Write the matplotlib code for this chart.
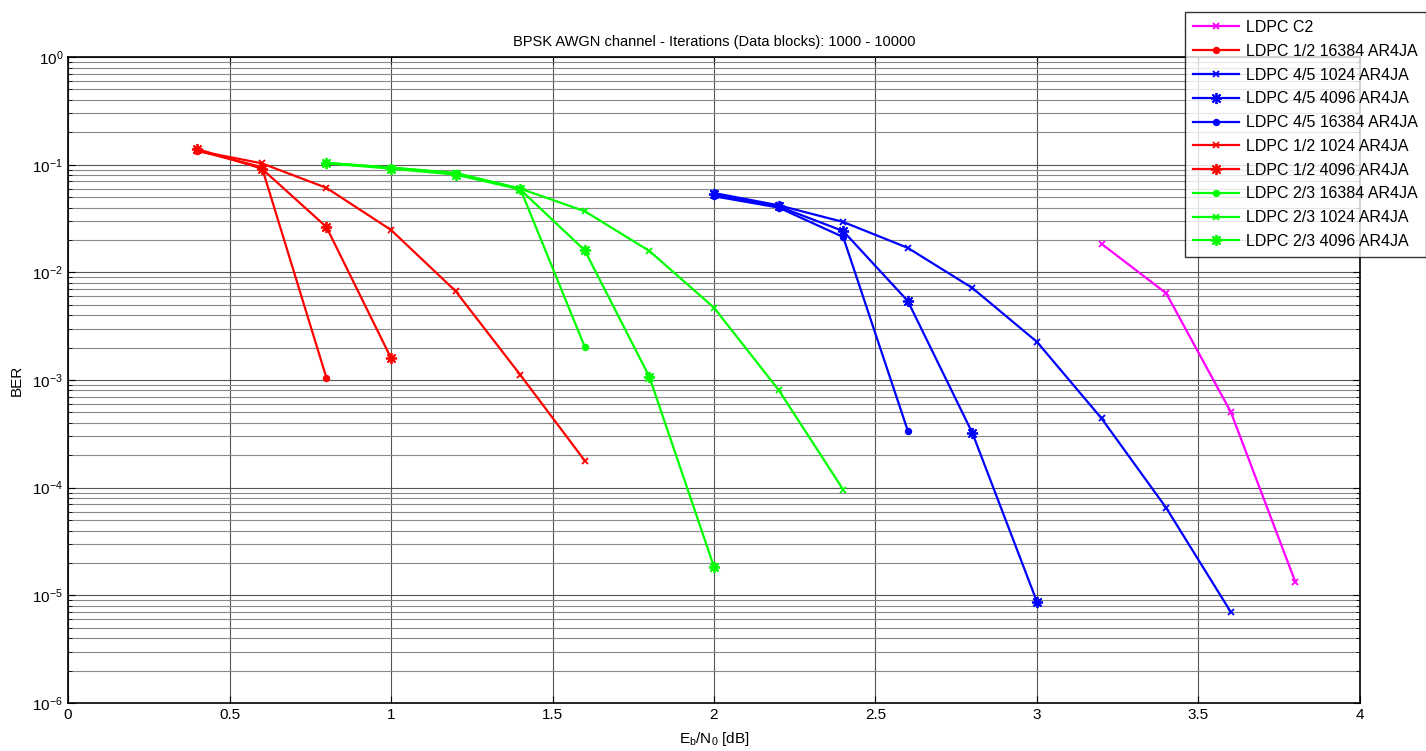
import matplotlib
matplotlib.use("Agg")
import matplotlib.pyplot as plt

plt.rcParams['font.family'] = ['Liberation Sans', 'DejaVu Sans']
plt.rcParams['axes.unicode_minus'] = False

# Eb/N0 points and BER for each code
x_c2 = [3.2, 3.4, 3.6, 3.8]
ber_c2 = [0.0184, 0.0064, 5.06e-4, 1.33e-5]

x_r12_16384 = [0.4, 0.6, 0.8]
ber_r12_16384 = [0.135, 0.095, 1.05e-3]
x_r45_1024 = [2.0, 2.2, 2.4, 2.6, 2.8, 3.0, 3.2, 3.4, 3.6]
ber_r45_1024 = [0.0546, 0.042, 0.0294, 0.0169, 0.00716, 0.00226, 4.4e-4, 6.5e-5, 7.0e-6]
x_r45_4096 = [2.0, 2.2, 2.4, 2.6, 2.8, 3.0]
ber_r45_4096 = [0.053, 0.041, 0.0242, 0.00542, 3.22e-4, 8.7e-6]
x_r45_16384 = [2.0, 2.2, 2.4, 2.6]
ber_r45_16384 = [0.051, 0.040, 0.0213, 3.38e-4]
x_r12_1024 = [0.4, 0.6, 0.8, 1.0, 1.2, 1.4, 1.6]
ber_r12_1024 = [0.135, 0.103, 0.061, 0.0248, 0.0067, 1.12e-3, 1.78e-4]
x_r12_4096 = [0.4, 0.6, 0.8, 1.0]
ber_r12_4096 = [0.14, 0.092, 0.0264, 1.6e-3]
x_r23_16384 = [0.8, 1.0, 1.2, 1.4, 1.6]
ber_r23_16384 = [0.104, 0.094, 0.083, 0.060, 2.03e-3]
x_r23_1024 = [0.8, 1.0, 1.2, 1.4, 1.6, 1.8, 2.0, 2.2, 2.4]
ber_r23_1024 = [0.104, 0.094, 0.084, 0.060, 0.037, 0.0158, 0.0047, 8.1e-4, 9.6e-5]
x_r23_4096 = [0.8, 1.0, 1.2, 1.4, 1.6, 1.8, 2.0]
ber_r23_4096 = [0.103, 0.092, 0.081, 0.059, 0.016, 1.07e-3, 1.84e-5]

star = (8, 2, 0)  # matlab-like asterisk

series = [
    (x_c2, ber_c2, '#ff00ff', 'x', 'LDPC C2'),
    (x_r12_16384, ber_r12_16384, '#ff0000', '.', 'LDPC 1/2 16384 AR4JA'),
    (x_r45_1024, ber_r45_1024, '#0000ff', 'x', 'LDPC 4/5 1024 AR4JA'),
    (x_r45_4096, ber_r45_4096, '#0000ff', star, 'LDPC 4/5 4096 AR4JA'),
    (x_r45_16384, ber_r45_16384, '#0000ff', '.', 'LDPC 4/5 16384 AR4JA'),
    (x_r12_1024, ber_r12_1024, '#ff0000', 'x', 'LDPC 1/2 1024 AR4JA'),
    (x_r12_4096, ber_r12_4096, '#ff0000', star, 'LDPC 1/2 4096 AR4JA'),
    (x_r23_16384, ber_r23_16384, '#00ff00', '.', 'LDPC 2/3 16384 AR4JA'),
    (x_r23_1024, ber_r23_1024, '#00ff00', 'x', 'LDPC 2/3 1024 AR4JA'),
    (x_r23_4096, ber_r23_4096, '#00ff00', star, 'LDPC 2/3 4096 AR4JA'),
]

fig = plt.figure(figsize=(14.26, 7.51), dpi=100)
ax = fig.add_axes([0.0477, 0.0639, 0.906, 0.8601])

for xs, ys, c, m, lab in series:
    ms = 5 if m == 'x' else 8
    ax.semilogy(xs, ys, color=c, marker=m, markersize=ms, linewidth=1.6,
                markeredgewidth=1.3, label=lab)

ax.set_xlim(0, 4)
ax.set_ylim(1e-6, 1)
ax.set_xticks([0, 0.5, 1, 1.5, 2, 2.5, 3, 3.5, 4])
ax.set_xticklabels(['0', '0.5', '1', '1.5', '2', '2.5', '3', '3.5', '4'])
ax.grid(True, which='major', color='#555555', linewidth=0.8)
ax.grid(True, which='minor', color='#888888', linewidth=0.8)
ax.tick_params(which='both', direction='in', top=True, right=True, labelsize=11)
ax.tick_params(which='major', length=5)
ax.tick_params(which='minor', length=3)
for s in ax.spines.values():
    s.set_linewidth(1.2)

ax.set_title('BPSK AWGN channel - Iterations (Data blocks): 1000 - 10000', fontsize=10.5, pad=8)
ax.set_xlabel(r'E$_\mathregular{b}$/N$_\mathregular{0}$ [dB]', fontsize=11, labelpad=6)
ax.set_ylabel('BER', fontsize=11, labelpad=6)

leg = fig.legend(loc='upper left', bbox_to_anchor=(1185 / 1426, 1 - 12 / 751),
                 fontsize=11.5, frameon=True, fancybox=False, edgecolor='black',
                 borderpad=0.5, labelspacing=0.55, handlelength=2.9, handletextpad=0.45,
                 borderaxespad=0)
leg.get_frame().set_linewidth(1.0)

fig.savefig('out.png', dpi=100)
